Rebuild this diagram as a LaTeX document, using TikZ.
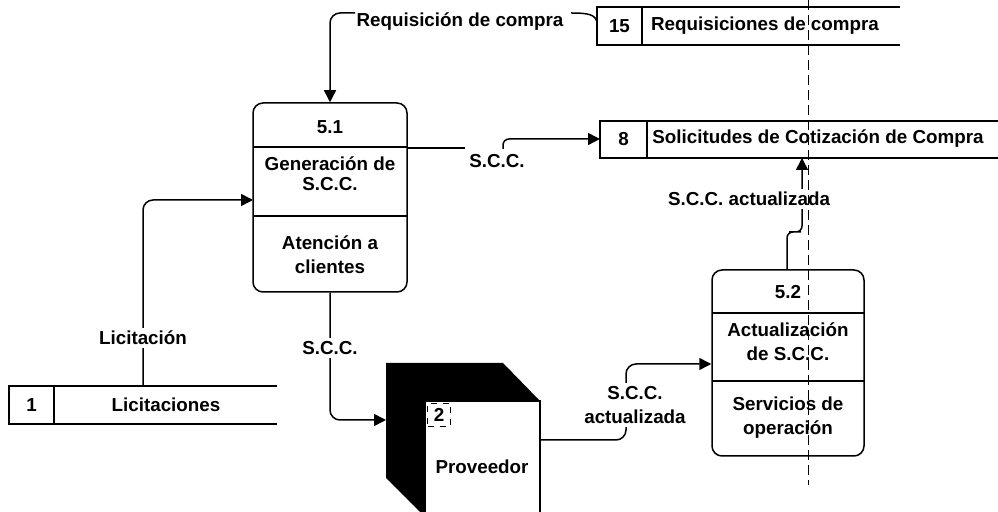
\documentclass[tikz,border=0pt]{standalone}
\usepackage{fontspec}
\setmainfont{Liberation Sans}
\usetikzlibrary{arrows.meta}
\begin{document}
\begin{tikzpicture}[x=0.5pt,y=-0.5pt,
  every node/.style={font=\fontsize{9.4pt}{12pt}\selectfont\bfseries, inner sep=1pt},
  ln/.style={line width=0.75pt},
  flow/.style={ln, -{Triangle[length=6pt,width=6pt]}, rounded corners=5pt},
  proc/.style={draw, line width=0.75pt, rounded corners=5pt},
  lbl/.style={fill=white, align=center, inner sep=1.5pt},
  txt/.style={align=center},
  pagemark/.style={line width=0.4pt, dash pattern=on 5pt off 2.5pt}
]
\useasboundingbox (0,0) rectangle (998,512);
\clip (0,0) rectangle (998,512);

% ---------- process 5.1
\node[proc, minimum width=77pt, minimum height=94.5pt] (p51) at (330,197.5) {};
\draw[ln] (253,147) -- (407,147);
\draw[ln] (253,216) -- (407,216);
\node (p51n) at (330,127) {5.1};
\node[txt] (p51a) at (330,174) {Generación de\\[-2pt]S.C.C.};
\node[txt] (p51b) at (330,255) {Atención a\\clientes};

% ---------- process 5.2
\node[proc, minimum width=76pt, minimum height=93pt] (p52) at (788,363) {};
\draw[ln] (712,313) -- (864,313);
\draw[ln] (712,381) -- (864,381);
\node (p52n) at (788,292) {5.2};
\node[txt] (p52a) at (788,342) {Actualización\\de S.C.C.};
\node[txt] (p52b) at (788,418) {Servicios de\\operación};

% ---------- data stores
\draw[ln] (900,7) -- (597,7) -- (597,45) -- (900,45);
\draw[ln] (642,7) -- (642,45);
\node (s15n) at (619.5,26) {15};
\node (s15) at (765,26) {Requisiciones de compra};

\draw[ln] (998,121) -- (600,121) -- (600,158) -- (998,158);
\draw[ln] (647,121) -- (647,158);
\node (s8n) at (623.5,139) {8};
\node[anchor=west] (s8) at (650,139) {Solicitudes de Cotización de Compra};

\draw[ln] (277,386) -- (9,386) -- (9,424) -- (277,424);
\draw[ln] (54,386) -- (54,424);
\node (s1n) at (31.5,405) {1};
\node (s1) at (166,405) {Licitaciones};

% ---------- external entity Proveedor
\fill (386,363) -- (503,363) -- (540,401) -- (425,401) -- (425,512) -- (420,512) -- (386,478) -- cycle;
\draw[ln, fill=white] (425,401) -- (540,401) -- (540,520) -- (425,520) -- cycle;
\node[draw, dashed, line width=0.6pt, minimum width=11.5pt, minimum height=11.5pt, inner sep=0pt] (prov2) at (439,415) {2};
\node (prov) at (482,467) {Proveedor};

% ---------- coordinates
\coordinate (c15) at (597,22);
\coordinate (c15b) at (571,13);
\coordinate (creq) at (355,13);
\coordinate (s1top) at (143,386);
\coordinate (e51) at (253,200);
\coordinate (o51) at (407,148);
\coordinate (o51b) at (465,148);
\coordinate (o51c) at (503,149);
\coordinate (in8) at (600,139);
\coordinate (in8b) at (802,158);
\coordinate (o52) at (787,270);
\coordinate (jog) at (795,232);
\coordinate (inprov) at (386,420);
\coordinate (oprov) at (540,440);
\coordinate (cup) at (626,364);

% ---------- flows
\draw[ln] (c15) .. controls (595,15) and (590,13) .. (c15b);
\draw[flow] (creq) -| (p51.north);
\node (lreq) at (460,22) {Requisición de compra};

\draw[flow] (s1top) |- (e51);
\node[lbl] (llic) at (143,338) {Licitación};

\draw[ln] (o51) -- (o51b);
\draw[flow, rounded corners=3pt] (o51c) |- (in8);
\node (lscc1) at (497,161) {S.C.C.};

\draw[flow] (p51.south) |- (inprov);
\node[lbl] (lscc2) at (330,348) {S.C.C.};

\draw[flow] (oprov) -| (cup) -- (p52.west |- cup);
\node[lbl] (lscc3) at (635,405) {S.C.C.\\actualizada};

\draw[flow, rounded corners=3pt] (o52) |- (jog) -| (in8b);
\node[lbl] (lscc4) at (749,199) {S.C.C. actualizada};

% ---------- page marker
\draw[pagemark] (808,0) -- (808,485);
\end{tikzpicture}
\end{document}
